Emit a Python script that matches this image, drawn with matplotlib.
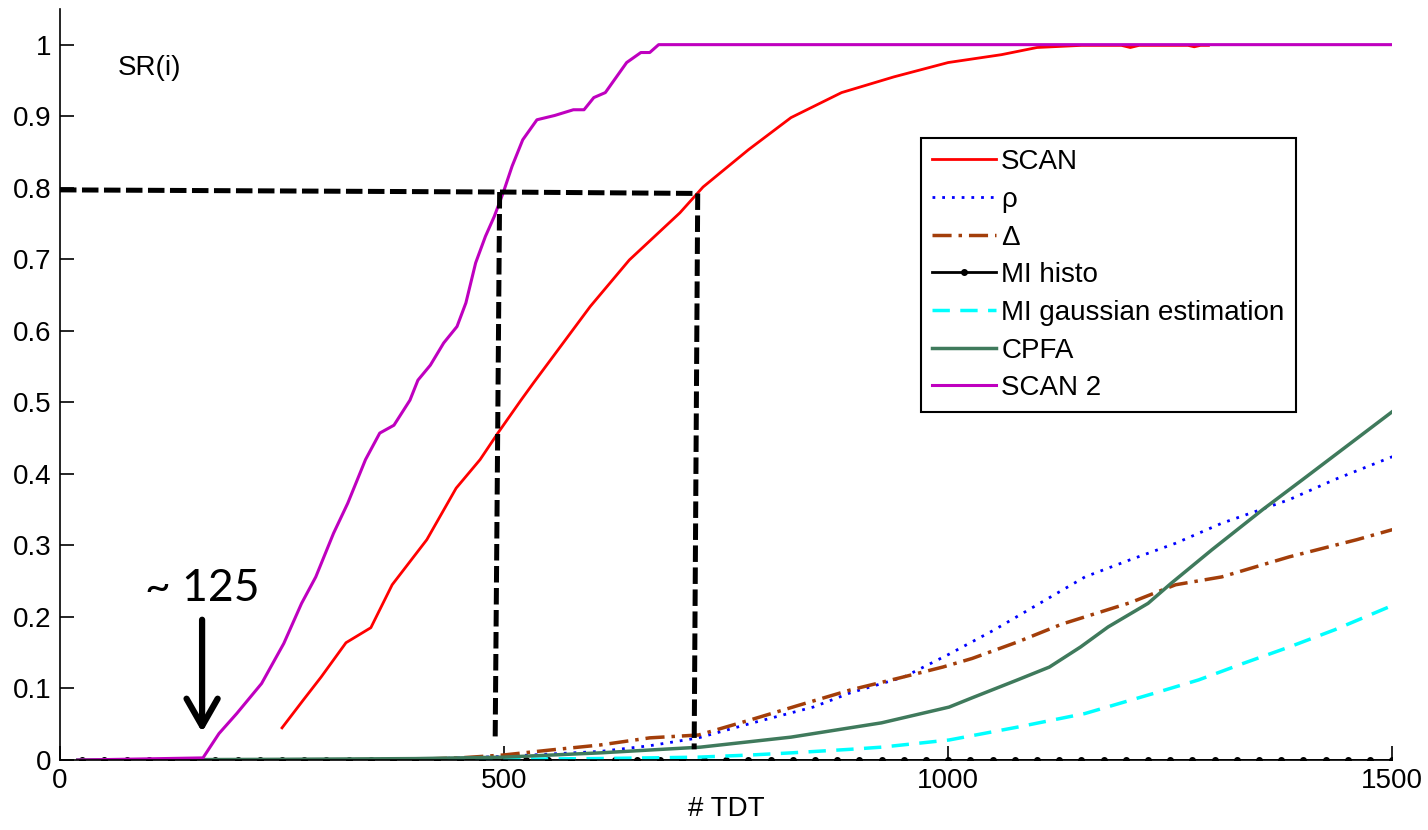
import numpy as np
import matplotlib
matplotlib.use("Agg")
import matplotlib.pyplot as plt

plt.rcParams['font.family'] = ['Liberation Sans', 'DejaVu Sans']

# SCAN (red)
scan_x = [250, 274, 294, 322, 350, 374, 413, 446, 473, 493, 519, 533, 597, 641, 698,
          724, 775, 823, 880, 939, 1000, 1060, 1100, 1150, 1195, 1205, 1215, 1270,
          1277, 1284, 1293]
scan_y = [0.045, 0.084, 0.116, 0.164, 0.185, 0.245, 0.308, 0.380, 0.420, 0.457, 0.503,
          0.527, 0.634, 0.699, 0.765, 0.801, 0.853, 0.898, 0.933, 0.955, 0.975, 0.986,
          0.996, 0.999, 0.999, 0.996, 0.999, 0.999, 0.997, 0.999, 0.999]

# rho (blue dotted)
rho_x = [250, 400, 499, 608, 664, 719, 777, 848, 890, 950, 1001, 1052, 1103, 1154,
         1205, 1256, 1308, 1384, 1435, 1500]
rho_y = [0.0, 0.001, 0.005, 0.012, 0.020, 0.031, 0.051, 0.074, 0.094, 0.116, 0.148,
         0.182, 0.219, 0.256, 0.280, 0.303, 0.331, 0.364, 0.392, 0.424]

# Delta (brown dash-dot)
delta_x = [250, 400, 450, 499, 552, 608, 664, 719, 777, 833, 890, 946, 994, 1027, 1078,
           1128, 1205, 1256, 1308, 1384, 1460, 1500]
delta_y = [0.0, 0.001, 0.003, 0.007, 0.014, 0.021, 0.031, 0.035, 0.056, 0.077, 0.098,
           0.115, 0.130, 0.142, 0.165, 0.190, 0.220, 0.245, 0.256, 0.284, 0.308, 0.322]

# MI histo (black, markers, all zero)
mihisto_x = np.arange(25, 1501, 25)
mihisto_y = np.zeros(len(mihisto_x))

# MI gaussian estimation (cyan dashed)
migauss_x = [280, 500, 600, 664, 718, 777, 823, 890, 925, 1001, 1078, 1154, 1231, 1282,
             1332, 1384, 1435, 1500]
migauss_y = [0.0, 0.001, 0.002, 0.003, 0.004, 0.007, 0.010, 0.015, 0.018, 0.028, 0.046,
             0.065, 0.093, 0.112, 0.135, 0.158, 0.182, 0.216]

# CPFA (dark green)
cpfa_x = [20, 250, 400, 499, 608, 664, 721, 823, 925, 1001, 1027, 1078, 1114, 1149, 1180,
          1225, 1251, 1297, 1354, 1399, 1500]
cpfa_y = [0.0, 0.001, 0.002, 0.004, 0.010, 0.014, 0.018, 0.032, 0.052, 0.074, 0.087,
          0.112, 0.130, 0.158, 0.186, 0.219, 0.247, 0.294, 0.350, 0.392, 0.487]

# SCAN 2 (purple)
scan2_x = [20, 161, 179, 199, 227, 252, 272, 288, 308, 324, 344, 360, 376, 394, 403, 417,
           432, 447, 457, 468, 479, 489, 499, 509, 521, 537, 557, 578, 590, 601, 614, 638,
           654, 664, 674, 1500]
scan2_y = [0.0, 0.003, 0.037, 0.065, 0.107, 0.163, 0.219, 0.256, 0.317, 0.359, 0.420,
           0.457, 0.468, 0.503, 0.531, 0.552, 0.583, 0.606, 0.639, 0.695, 0.732, 0.760,
           0.793, 0.830, 0.867, 0.895, 0.901, 0.909, 0.909, 0.926, 0.933, 0.975, 0.989,
           0.989, 1.0, 1.0]

# reference dashed lines (0.8 crossing)
guide_h_x = [0, 495, 718]
guide_h_y = [0.797, 0.794, 0.792]
guide_v1_x = [495, 490]
guide_v1_y = [0.794, 0.033]
guide_v2_x = [718, 714]
guide_v2_y = [0.792, 0.015]

labels = ['SCAN', 'ρ', 'Δ', 'MI histo', 'MI gaussian estimation', 'CPFA', 'SCAN 2']

fig = plt.figure(figsize=(14.28, 8.30), dpi=100)
ax = fig.add_axes([0.042, 0.0843, 0.933, 0.905])

h1, = ax.plot(scan_x, scan_y, color='#ff0000', lw=2)
h2, = ax.plot(rho_x, rho_y, color='#0000ff', lw=2, linestyle=(0, (1, 2.5)))
h3, = ax.plot(delta_x, delta_y, color='#a33e0a', lw=2.5, linestyle=(0, (5.5, 2, 1, 2)))
h4, = ax.plot(mihisto_x, mihisto_y, color='black', lw=2, marker='.', markersize=8)
h5, = ax.plot(migauss_x, migauss_y, color='#00ffff', lw=2.5, linestyle=(0, (5, 3)))
h6, = ax.plot(cpfa_x, cpfa_y, color='#3f7a5c', lw=2.5)
h7, = ax.plot(scan2_x, scan2_y, color='#bf00bf', lw=2.2)

dash = (0, (3.3, 1.1))
ax.plot(guide_h_x, guide_h_y, color='black', lw=3.6, linestyle=dash)
ax.plot(guide_v1_x, guide_v1_y, color='black', lw=3.6, linestyle=dash)
ax.plot(guide_v2_x, guide_v2_y, color='black', lw=3.6, linestyle=dash)

ax.set_xlim(0, 1500)
ax.set_ylim(0, 1.05)
ax.set_xticks([0, 500, 1000, 1500])
ax.set_yticks(np.arange(0, 1.01, 0.1))
ax.set_yticklabels(['0', '0.1', '0.2', '0.3', '0.4', '0.5', '0.6', '0.7', '0.8', '0.9', '1'])
ax.tick_params(direction='in', length=10, width=1.2, labelsize=20, pad=6)
ax.spines['top'].set_visible(False)
ax.spines['right'].set_visible(False)
ax.spines['left'].set_linewidth(1.2)
ax.spines['bottom'].set_linewidth(1.2)

ax.set_xlabel('# TDT', fontsize=20, labelpad=1)
ax.text(0.043, 0.921, 'SR(i)', transform=ax.transAxes, fontsize=20, va='center', ha='left')

ax.annotate('', xy=(160, 0.035), xytext=(160, 0.2),
            arrowprops=dict(arrowstyle='->, head_length=0.7, head_width=0.4',
                            lw=4.5, color='black', mutation_scale=28))
ax.text(160, 0.24, '~ 125', fontsize=32, family=['Lato', 'DejaVu Sans'],
        ha='center', va='center')

leg = ax.legend([h1, h2, h3, h4, h5, h6, h7], labels, loc='upper left',
                bbox_to_anchor=(0.646, 0.828), fontsize=20, frameon=True,
                fancybox=False, framealpha=1, edgecolor='black',
                handlelength=2.3, handletextpad=0.2, labelspacing=0.42,
                borderpad=0.4, borderaxespad=0)
leg.get_frame().set_linewidth(1.5)

fig.savefig('out.png', dpi=100)
